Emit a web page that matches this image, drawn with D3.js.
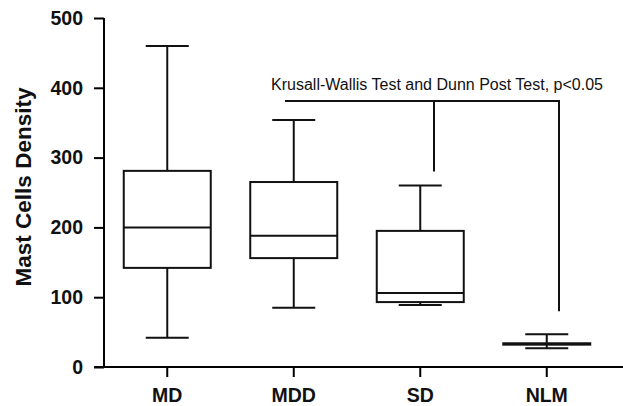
<!DOCTYPE html>
<html>
<head>
<meta charset="utf-8">
<script src="https://d3js.org/d3.v7.min.js"></script>
<style>
  body { margin: 0; background: #fff; }
  text { font-family: "Liberation Sans", Arial, sans-serif; }
</style>
</head>
<body>
<div id="chart"></div>
<script>
// datos
const groups = ["MD", "MDD", "SD", "NLM"]
const mins = [42, 85, 89, 27]
const q1s = [142, 156, 93, 32]
const medians = [200, 188, 106, 33]
const q3s = [281, 265, 195, 34]
const maxs = [460, 354, 260, 47]
const yTicks = [0, 100, 200, 300, 400, 500]

const width = 623
const height = 406
const margin = { top: 18, bottom: 39, left: 104, right: 13 }

const svg = d3.select("div#chart").append("svg").attr("width", width).attr("height", height)

const x = d3.scaleBand().domain(groups).range([margin.left, width - margin.right])
const y = d3.scaleLinear().domain([0, 500]).range([height - margin.bottom, margin.top])

const boxW = 87
const capW = 43

const data = groups.map((g, i) => ({
    g: g, min: mins[i], q1: q1s[i], med: medians[i], q3: q3s[i], max: maxs[i]
}))

const boxG = svg.append("g").attr("class", "boxes")
    .attr("stroke", "#111").attr("stroke-width", 2).attr("fill", "none")

const cx = d => x(d.g) + x.bandwidth() / 2

// bigotes
boxG.selectAll("line.whiskerTop").data(data).enter().append("line")
    .attr("x1", cx).attr("x2", cx)
    .attr("y1", d => y(d.q3)).attr("y2", d => y(d.max))
boxG.selectAll("line.whiskerBottom").data(data).enter().append("line")
    .attr("x1", cx).attr("x2", cx)
    .attr("y1", d => y(d.q1)).attr("y2", d => y(d.min))
boxG.selectAll("line.capTop").data(data).enter().append("line")
    .attr("x1", d => cx(d) - capW / 2).attr("x2", d => cx(d) + capW / 2)
    .attr("y1", d => y(d.max)).attr("y2", d => y(d.max))
boxG.selectAll("line.capBottom").data(data).enter().append("line")
    .attr("x1", d => cx(d) - capW / 2).attr("x2", d => cx(d) + capW / 2)
    .attr("y1", d => y(d.min)).attr("y2", d => y(d.min))

// cajas
boxG.selectAll("rect").data(data).enter().append("rect")
    .attr("x", d => cx(d) - boxW / 2)
    .attr("width", boxW)
    .attr("y", d => y(d.q3))
    .attr("height", d => y(d.q1) - y(d.q3))
    .attr("fill", "#fff")
boxG.selectAll("line.median").data(data).enter().append("line")
    .attr("x1", d => cx(d) - boxW / 2).attr("x2", d => cx(d) + boxW / 2)
    .attr("y1", d => y(d.med)).attr("y2", d => y(d.med))

// ejes
const yAxis = d3.axisLeft(y).tickValues(yTicks).tickSize(10).tickPadding(11)
const yAxisGroup = svg.append("g").attr("transform", `translate(${margin.left},0)`).call(yAxis)
yAxisGroup.select(".domain").attr("stroke-width", 2).attr("d", `M0,${y(0)}V${y(500)}`)
yAxisGroup.selectAll(".tick line").attr("stroke-width", 2)
yAxisGroup.selectAll(".tick text")
    .style("font-size", "19.5px").style("font-weight", "bold").attr("fill", "#111")

const xAxis = d3.axisBottom(x).tickSize(10).tickPadding(11)
const xAxisGroup = svg.append("g").attr("transform", `translate(0,${y(0)})`).call(xAxis)
xAxisGroup.select(".domain").attr("stroke-width", 2).attr("d", `M${margin.left - 10},0H${width}`)
xAxisGroup.selectAll(".tick line").attr("stroke-width", 2)
xAxisGroup.selectAll(".tick text")
    .style("font-size", "19.5px").style("font-weight", "bold").attr("fill", "#111")

// titulo eje y
svg.append("text")
    .attr("transform", `translate(31,187) rotate(-90)`)
    .attr("text-anchor", "middle")
    .style("font-size", "22.5px").style("font-weight", "bold")
    .attr("fill", "#111")
    .text("Mast Cells Density")

// prueba estadistica
const sigY = y(381)
const sig = svg.append("g").attr("stroke", "#111").attr("stroke-width", 2)
sig.append("line").attr("x1", 285).attr("x2", 560).attr("y1", sigY).attr("y2", sigY)
sig.append("line").attr("x1", 434).attr("x2", 434).attr("y1", sigY).attr("y2", y(280))
sig.append("line").attr("x1", 559).attr("x2", 559).attr("y1", sigY).attr("y2", y(80))

svg.append("text")
    .attr("x", 437).attr("y", 90)
    .attr("text-anchor", "middle")
    .style("font-size", "16px")
    .attr("fill", "#111")
    .text("Krusall-Wallis Test and Dunn Post Test, p<0.05")
</script>
</body>
</html>
